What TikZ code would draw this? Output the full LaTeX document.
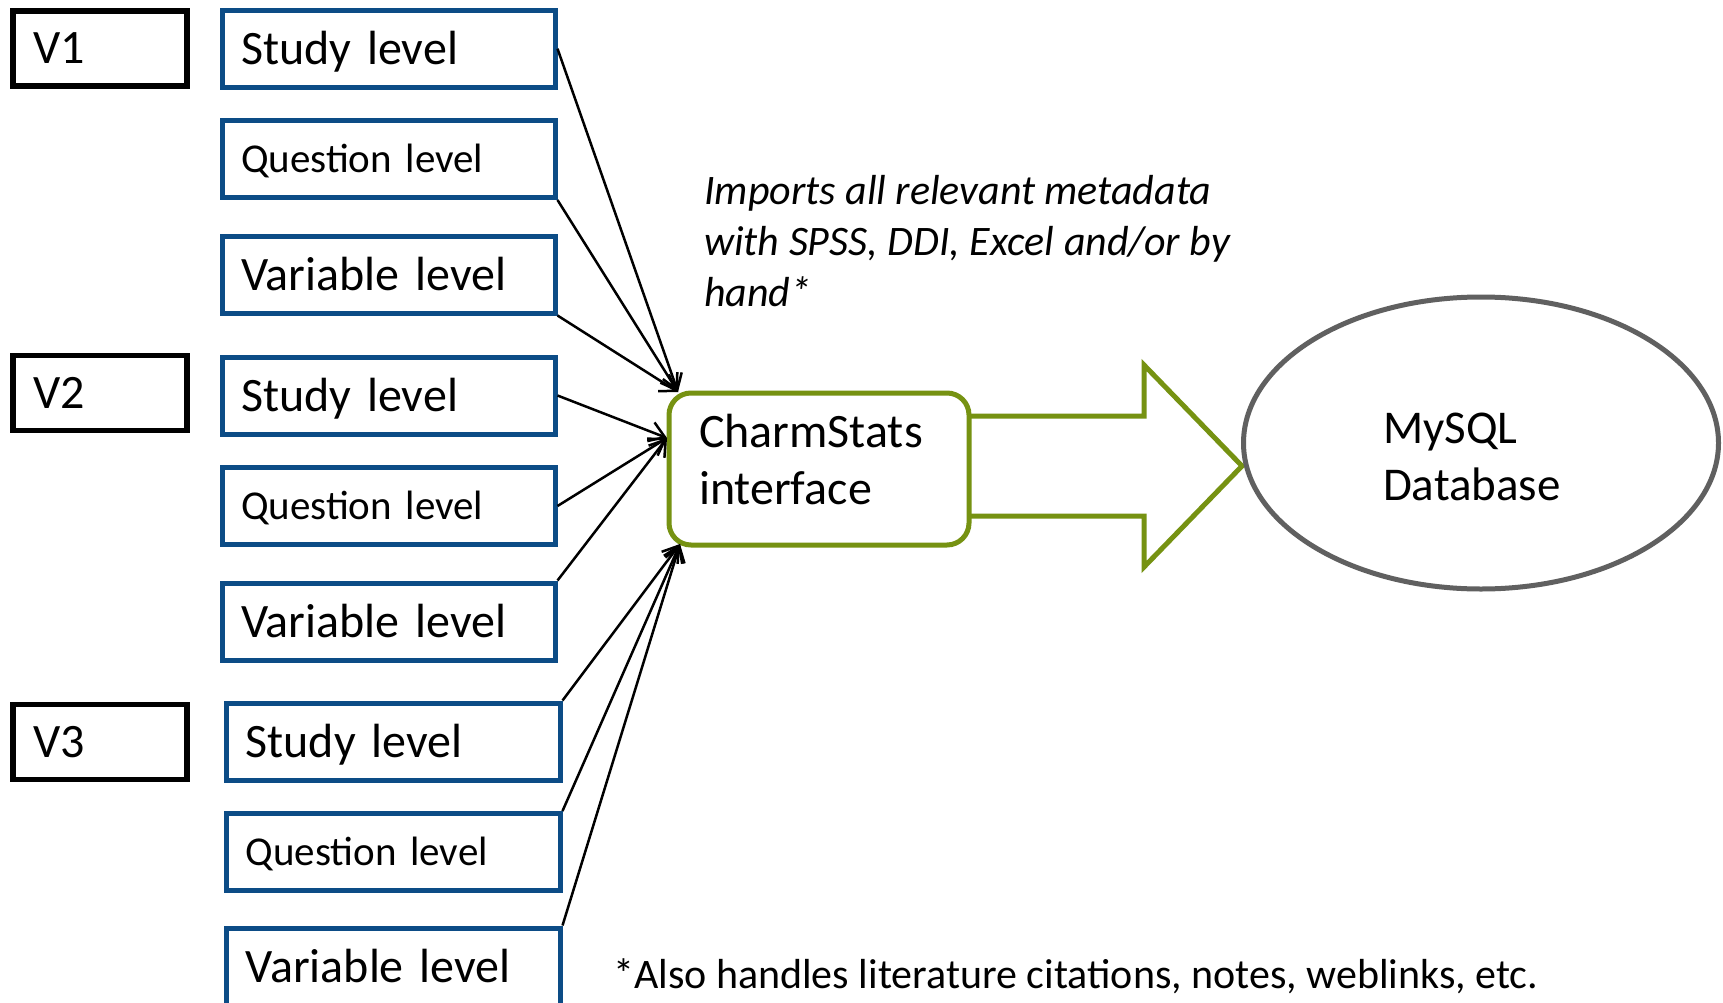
\documentclass[tikz,border=0pt]{standalone}
\usepackage{fontspec}
\setmainfont{Carlito}
\usetikzlibrary{shapes.geometric,arrows.meta}
\definecolor{lvlblue}{RGB}{12,76,134}
\definecolor{csgreen}{RGB}{118,146,18}
\definecolor{dbgray}{RGB}{96,96,96}
\tikzset{
  vbox/.style={draw=black, line width=5.5pt, rectangle, minimum width=174pt, minimum height=75pt,
    inner xsep=20pt, inner ysep=0pt, text width=134pt, align=left,
    font=\fontsize{48}{58}\selectfont, text height=31pt, text depth=0pt},
  lvl/.style={draw=lvlblue, line width=5pt, rectangle, minimum width=333pt, minimum height=77pt,
    inner xsep=19pt, inner ysep=0pt, text width=295pt, align=left},
  big/.style={lvl, font=\fontsize{48}{58}\selectfont, text height=31pt, text depth=0pt},
  small/.style={lvl, font=\fontsize{41}{50}\selectfont, text height=26.5pt, text depth=0pt},
  csbox/.style={draw=csgreen, line width=5pt, rectangle, rounded corners=22pt, fill=white,
    minimum width=300pt, minimum height=152pt, inner xsep=30pt, inner ysep=0pt,
    text width=240pt, align=left, font=\fontsize{48}{57}\selectfont,
    text height=33pt, text depth=77pt},
  dbshape/.style={draw=dbgray, line width=5pt, ellipse, minimum width=475pt, minimum height=292pt,
    inner sep=0pt, text width=196pt, align=left, font=\fontsize{47}{57}\selectfont,
    text height=33pt, text depth=33pt},
  conn/.style={draw=black, line width=2.5pt, -{Straight Barb[length=15pt,width=20pt]}},
  bigarrow/.style={draw=csgreen, line width=5pt, line join=miter},
  note/.style={anchor=base west, align=left, inner sep=0pt},
}
\begin{document}
\begin{tikzpicture}[x=1pt,y=-1pt]
\useasboundingbox (0,0) rectangle (1723,1003);
\clip (0,0) rectangle (1723,1003);
\fill[white] (0,0) rectangle (1723,1003);

% version boxes
\node[vbox] (V1) at (100,48.5) {V1};
\node[vbox] (V2) at (100,393) {V2};
\node[vbox] (V3) at (100,742) {V3};

% level boxes
\node[big]   (s1) at (388.5,48.7) {Study level};
\node[small] (q1) at (388.5,159)  {Question level};
\node[big]   (v1) at (388.5,274.5) {Variable level};
\node[big]   (s2) at (388.5,395.5) {Study level};
\node[small] (q2) at (388.5,506)  {Question level};
\node[big]   (v2) at (388.5,621.5) {Variable level};
\node[big,   minimum width=334pt] (s3) at (393,741.5) {Study level};
\node[small, minimum width=334pt] (q3) at (393,852)   {Question level};
\node[big,   minimum width=334pt] (v3) at (393,966.5) {Variable level};

% big arrow
\coordinate (ashaftT) at (969,416);
\coordinate (aheadT1) at (1144,416);
\coordinate (aheadT2) at (1144,365);
\coordinate (atip)    at (1242,466);
\coordinate (aheadB2) at (1144,567);
\coordinate (aheadB1) at (1144,516);
\coordinate (ashaftB) at (969,516);
\draw[bigarrow] (ashaftT) -- (aheadT1) -- (aheadT2) -- (atip) -- (aheadB2) -- (aheadB1) -- (ashaftB);

% CharmStats interface
\node[csbox] (cs) at (819,469) {CharmStats\\interface};

% database
\node[dbshape] (db) at (1481,443) {MySQL\\Database};

% connector targets
\coordinate (inTop) at (678,392);
\coordinate (inMid) at (667,438);
\coordinate (inBot) at (680,544);

\draw[conn] (s1.east) -- (inTop);
\draw[conn] (q1.south east) -- (inTop);
\draw[conn] (v1.south east) -- (inTop);
\draw[conn] (s2.east) -- (inMid);
\draw[conn] (q2.east) -- (inMid);
\draw[conn] (v2.north east) -- (inMid);
\draw[conn] (s3.north east) -- (inBot);
\draw[conn] (q3.north east) -- (inBot);
\draw[conn] (v3.north east) -- (inBot);

% texts
\node[note, font=\fontsize{42}{51}\selectfont\itshape] (imp) at (704,306)
  {Imports all relevant metadata\\with SPSS, DDI, Excel and/or by\\hand*};
\node[note, font=\fontsize{42}{51}\selectfont] (foot) at (613,988)
  {*Also handles literature citations, notes, weblinks, etc.};
\end{tikzpicture}
\end{document}
